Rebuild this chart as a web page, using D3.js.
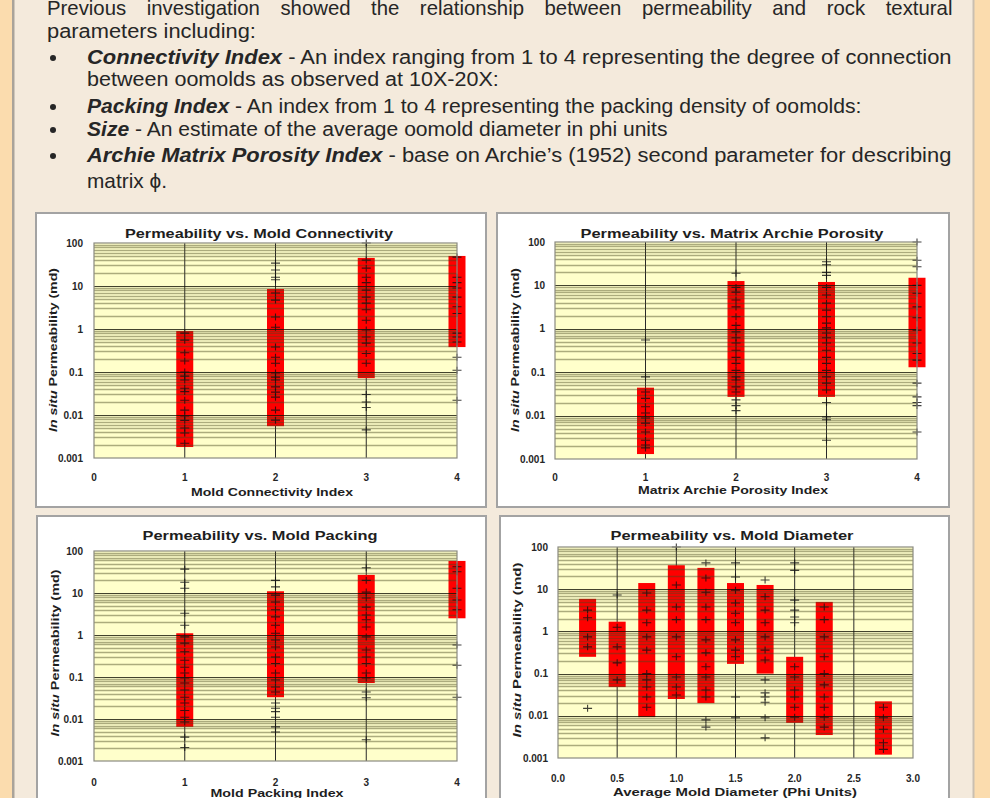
<!DOCTYPE html>
<html><head><meta charset="utf-8">
<script src="https://cdn.jsdelivr.net/npm/d3@7"></script>
<style>
html,body{margin:0;padding:0;background:#fbdcae;overflow:hidden;}
svg{display:block;}
</style></head><body>
<svg id="c" width="990" height="798"></svg>
<script>
// ---------------- DATA ----------------
const yTickValues = [0.001, 0.01, 0.1, 1, 10, 100];
const yTickLabels = ["0.001", "0.01", "0.1", "1", "10", "100"];
const indexTickValues = [0, 1, 2, 3, 4];
const indexTickLabels = ["0", "1", "2", "3", "4"];
const diameterTickValues = [0, 0.5, 1, 1.5, 2, 2.5, 3];
const diameterTickLabels = ["0.0", "0.5", "1.0", "1.5", "2.0", "2.5", "3.0"];

const connectivityCats = [1, 2, 3, 4];
const connectivityLow  = [0.0018, 0.0055, 0.072, 0.38];
const connectivityHigh = [0.9, 8.5, 45, 50];
const connectivityPts = [
  [0.8, 0.55, 0.28, 0.18, 0.1, 0.08, 0.065, 0.042, 0.035, 0.022, 0.013, 0.0095, 0.0075, 0.005, 0.0038, 0.0022],
  [34, 23.5, 16, 14, 6.9, 4.7, 1.9, 1.1, 0.38, 0.22, 0.16, 0.095, 0.076, 0.065, 0.045, 0.034, 0.026, 0.013, 0.0076],
  [100, 40, 26, 16, 12, 8, 5.5, 4, 2.8, 1.6, 0.95, 0.65, 0.47, 0.27, 0.16, 0.03, 0.02, 0.015, 0.0045],
  [47, 16, 12, 9, 5.5, 3.3, 2.3, 0.8, 0.65, 0.5, 0.22, 0.11, 0.022]
];

const archieCats = [1, 2, 3, 4];
const archieLow  = [0.0013, 0.027, 0.027, 0.13];
const archieHigh = [0.044, 12.6, 12, 15];
const archiePts = [
  [0.55, 0.078, 0.035, 0.025, 0.016, 0.0115, 0.0088, 0.0067, 0.0042, 0.0027, 0.0021, 0.0018],
  [19, 9, 7, 4.6, 3.2, 1.9, 1.2, 0.85, 0.62, 0.47, 0.32, 0.22, 0.16, 0.11, 0.078, 0.066, 0.046, 0.035, 0.023, 0.017, 0.013],
  [35, 30, 20, 17, 9, 6, 3.9, 2.7, 1.9, 1.35, 1.05, 0.8, 0.62, 0.47, 0.32, 0.22, 0.16, 0.11, 0.078, 0.056, 0.039, 0.02, 0.0093, 0.008, 0.0027],
  [100, 38, 27, 10, 6.6, 3.2, 1.8, 0.93, 0.47, 0.27, 0.19, 0.056, 0.027, 0.02, 0.017, 0.0042]
];

const packingCats = [1, 2, 3, 4];
const packingLow  = [0.0065, 0.033, 0.072, 2.5];
const packingHigh = [1.1, 11, 27, 58];
const packingPts = [
  [37, 18, 13, 3.3, 1.7, 0.9, 0.64, 0.4, 0.25, 0.17, 0.125, 0.095, 0.072, 0.049, 0.033, 0.024, 0.016, 0.011, 0.0085, 0.0037, 0.0021],
  [20, 14, 8.9, 6.1, 4, 2.7, 1.7, 1.1, 0.76, 0.52, 0.3, 0.21, 0.125, 0.085, 0.058, 0.044, 0.024, 0.018, 0.015, 0.011, 0.0065, 0.0049],
  [40, 20, 10.5, 7.6, 4.6, 3, 2.3, 1.55, 0.9, 0.44, 0.3, 0.21, 0.125, 0.095, 0.044, 0.032, 0.0032],
  [42, 32, 13, 6.8, 4, 0.58, 0.19, 0.033]
];

const diameterCats = [0.25, 0.5, 0.75, 1.0, 1.25, 1.5, 1.75, 2.0, 2.25, 2.75];
const diameterLow  = [0.25, 0.048, 0.0093, 0.025, 0.02, 0.17, 0.1, 0.0068, 0.0035, 0.0012];
const diameterHigh = [5.9, 1.7, 14, 37, 32, 14, 12.6, 0.25, 5, 0.022];
const diameterPts = [
  [3.2, 2.1, 0.74, 0.43, 0.015],
  [7.3, 1.25, 0.43, 0.18, 0.071],
  [8.1, 3.2, 1.6, 0.74, 0.36, 0.1, 0.071, 0.048, 0.028, 0.016],
  [100, 12.6, 3.8, 1.9, 0.74, 0.25, 0.083, 0.048, 0.031],
  [42, 18.5, 8.5, 3.8, 1.9, 0.63, 0.31, 0.145, 0.083, 0.041, 0.028, 0.008, 0.0054],
  [42, 19.5, 9.5, 4.7, 2.7, 1.6, 0.63, 0.36, 0.25, 0.028, 0.009],
  [16.5, 6.6, 3.2, 1.6, 0.74, 0.36, 0.21, 0.071, 0.035, 0.028, 0.021, 0.009, 0.003],
  [42, 28, 5.5, 3.2, 2.2, 1.6, 0.145, 0.083, 0.041, 0.028, 0.016, 0.0093],
  [3.8, 1.9, 0.74, 0.25, 0.1, 0.054, 0.028, 0.016, 0.0093, 0.0054],
  [0.016, 0.009, 0.0048, 0.0023, 0.0016]
];

// ---------------- TEXT ----------------
const introLines = [
  {segs: [["Previous investigation showed the relationship between permeability and rock textural", false]], x: 47, right: 953, y: 15, justify: true},
  {segs: [["parameters including:", false]], x: 47, right: 256, y: 38},
  {segs: [["Connectivity Index", true], [" - An index ranging from 1 to 4 representing the degree of connection", false]], x: 87, right: 952, y: 64, bullet: true},
  {segs: [["between oomolds as observed at 10X-20X:", false]], x: 87, right: 499, y: 86},
  {segs: [["Packing Index", true], [" - An index from 1 to 4 representing the packing density of oomolds:", false]], x: 87, right: 862, y: 113, bullet: true},
  {segs: [["Size", true], [" - An estimate of the average oomold diameter in phi units", false]], x: 87, right: 668, y: 136, bullet: true},
  {segs: [["Archie Matrix Porosity Index", true], [" - base on Archie\u2019s (1952) second parameter for describing", false]], x: 87, right: 952, y: 162, bullet: true},
  {segs: [["matrix \u03d5.", false]], x: 87, right: 167, y: 188}
];

// ---------------- DRAW ----------------
const svg = d3.select("#c");
svg.append("rect").attr("width", 990).attr("height", 798).attr("fill", "#fbdcae");
svg.append("rect").attr("x", 14).attr("y", 0).attr("width", 959).attr("height", 798).attr("fill", "#f4eadc");
svg.append("rect").attr("x", 12).attr("y", 0).attr("width", 2.5).attr("height", 798).attr("fill", "#a9a39a");
svg.append("rect").attr("x", 972.5).attr("y", 0).attr("width", 2).attr("height", 798).attr("fill", "#c9bfb1");

const textFont = "'Liberation Sans',Arial,sans-serif";
const narrow = 0.97;
introLines.forEach(l => {
  const g = svg.append("g");
  const t = g.append("text").attr("x", 0).attr("y", 0)
    .attr("font-family", textFont).attr("font-size", 21).attr("fill", "#262626");
  l.segs.forEach(s => {
    const ts = t.append("tspan").text(s[0]);
    if (s[1]) ts.attr("font-weight", "bold").attr("font-style", "italic");
  });
  const target = l.right - l.x;
  const nat = t.node().getComputedTextLength();
  let sx;
  if (l.justify) {
    sx = narrow;
    const words = l.segs.map(s => s[0]).join("").split(" ").length;
    t.attr("word-spacing", Math.max(0, (target / sx - nat) / (words - 1)));
  } else {
    sx = target / nat;
  }
  g.attr("transform", `translate(${l.x},${l.y}) scale(${sx},1)`);
  if (l.bullet) {
    svg.append("circle").attr("cx", 53).attr("cy", l.y - 6).attr("r", 3).attr("fill", "#262626");
  }
});

const chartFont = "'Liberation Sans',Arial,sans-serif";

const panels = [
  {frame: [36, 213, 450, 294], plot: [94, 243, 457, 458],
   title: "Permeability vs. Mold Connectivity", titleX: 259, titleY: 238, titleW: 268,
   xTitle: "Mold Connectivity Index", xTitleX: 272, xTitleY: 496, xTitleW: 162,
   yTitleX: 57, yTitleY: 350, yTitleW: 164, xLabelY: 481, yLabelX: 83,
   cats: connectivityCats, low: connectivityLow, high: connectivityHigh, pts: connectivityPts,
   xDomain: [0, 4], xTicks: indexTickValues, xLabels: indexTickLabels},
  {frame: [497, 213, 452, 294], plot: [555, 242, 917, 459],
   title: "Permeability vs. Matrix Archie Porosity", titleX: 732, titleY: 238, titleW: 303,
   xTitle: "Matrix Archie Porosity Index", xTitleX: 733, xTitleY: 494, xTitleW: 190,
   yTitleX: 519, yTitleY: 350, yTitleW: 164, xLabelY: 481, yLabelX: 545,
   cats: archieCats, low: archieLow, high: archieHigh, pts: archiePts,
   xDomain: [0, 4], xTicks: indexTickValues, xLabels: indexTickLabels},
  {frame: [37, 516, 449, 300], plot: [94, 551, 457, 761],
   title: "Permeability vs. Mold Packing", titleX: 260, titleY: 540, titleW: 235,
   xTitle: "Mold Packing Index", xTitleX: 277, xTitleY: 797, xTitleW: 133,
   yTitleX: 59, yTitleY: 653, yTitleW: 167, xLabelY: 786, yLabelX: 83,
   cats: packingCats, low: packingLow, high: packingHigh, pts: packingPts,
   xDomain: [0, 4], xTicks: indexTickValues, xLabels: indexTickLabels},
  {frame: [500, 516, 449, 300], plot: [558, 547, 913, 758],
   title: "Permeability vs. Mold Diameter", titleX: 732, titleY: 540, titleW: 243,
   xTitle: "Average Mold Diameter (Phi Units)", xTitleX: 735, xTitleY: 796, xTitleW: 244,
   yTitleX: 521, yTitleY: 650, yTitleW: 175, xLabelY: 782, yLabelX: 548,
   cats: diameterCats, low: diameterLow, high: diameterHigh, pts: diameterPts,
   xDomain: [0, 3], xTicks: diameterTickValues, xLabels: diameterTickLabels}
];

// minor grid values (2..9 x 10^k)
function minorValues() {
  const out = [];
  for (let e = -3; e < 2; e++) for (let m = 2; m <= 9; m++) out.push(m * Math.pow(10, e));
  return out;
}

panels.forEach(p => {
  const g = svg.append("g");
  const [fx, fy, fw, fh] = p.frame;
  g.append("rect").attr("x", fx).attr("y", fy).attr("width", fw).attr("height", fh)
    .attr("fill", "#ffffff").attr("stroke", "#a3a3a3").attr("stroke-width", 2);

  const [L, T, R, B] = p.plot;
  const x = d3.scaleLinear().domain(p.xDomain).range([L, R]);
  const y = d3.scaleLog().domain([0.001, 100]).range([B, T]);

  g.append("rect").attr("x", L).attr("y", T).attr("width", R - L).attr("height", B - T).attr("fill", "#ffffcb");

  // vertical gridlines
  g.selectAll(".vg").data(p.xTicks.slice(1, -1)).join("line")
    .attr("x1", d => x(d)).attr("x2", d => x(d)).attr("y1", T).attr("y2", B)
    .attr("stroke", "#2a2a2a").attr("stroke-width", 1);

  // red range bars
  const bw = 17;
  g.selectAll(".bar").data(p.cats).join("rect")
    .attr("x", d => x(d) - bw / 2)
    .attr("y", (d, i) => y(p.high[i]))
    .attr("width", bw)
    .attr("height", (d, i) => y(p.low[i]) - y(p.high[i]))
    .attr("fill", "#ff0000");

  // horizontal minor gridlines (drawn over, semi transparent)
  g.selectAll(".mg").data(minorValues()).join("line")
    .attr("x1", L).attr("x2", R)
    .attr("y1", d => Math.round(y(d)) + 0.5).attr("y2", d => Math.round(y(d)) + 0.5)
    .attr("stroke", "rgba(70,70,30,0.45)").attr("stroke-width", 1.7);
  g.selectAll(".Mg").data(yTickValues.slice(1, -1)).join("line")
    .attr("x1", L).attr("x2", R)
    .attr("y1", d => Math.round(y(d)) + 0.5).attr("y2", d => Math.round(y(d)) + 0.5)
    .attr("stroke", "rgba(20,20,5,0.8)").attr("stroke-width", 1.2);

  // data points (+)
  const flat = [];
  p.pts.forEach((arr, i) => arr.forEach(v => flat.push([p.cats[i], v])));
  g.selectAll(".pt").data(flat).join("path")
    .attr("transform", d => `translate(${x(d[0])},${y(d[1])})`)
    .attr("d", "M-4.5,0H4.5M0,-3.5V3.5")
    .attr("stroke", "#111").attr("stroke-width", 1.1).attr("opacity", 0.8).attr("fill", "none");

  // plot border
  g.append("rect").attr("x", L).attr("y", T).attr("width", R - L).attr("height", B - T)
    .attr("fill", "none").attr("stroke", "#8a8a80").attr("stroke-width", 1.2);

  // y tick labels
  g.selectAll(".yl").data(yTickValues).join("text")
    .attr("x", p.yLabelX).attr("y", d => y(d)).attr("dy", "0.35em")
    .attr("text-anchor", "end").attr("font-family", chartFont).attr("font-weight", "bold")
    .attr("font-size", 10).attr("fill", "#262626")
    .text((d, i) => yTickLabels[i]);

  // x tick labels
  g.selectAll(".xl").data(p.xTicks).join("text")
    .attr("x", d => x(d)).attr("y", p.xLabelY)
    .attr("text-anchor", "middle").attr("font-family", chartFont).attr("font-weight", "bold")
    .attr("font-size", 10).attr("fill", "#262626")
    .text((d, i) => p.xLabels[i]);

  // title
  g.append("text").attr("x", p.titleX).attr("y", p.titleY).attr("text-anchor", "middle")
    .attr("font-family", chartFont).attr("font-weight", "bold").attr("font-size", 13.5)
    .attr("fill", "#1e1e1e").attr("textLength", p.titleW).attr("lengthAdjust", "spacingAndGlyphs")
    .text(p.title);

  // x title
  g.append("text").attr("x", p.xTitleX).attr("y", p.xTitleY).attr("text-anchor", "middle")
    .attr("font-family", chartFont).attr("font-weight", "bold").attr("font-size", 11.5)
    .attr("fill", "#1e1e1e").attr("textLength", p.xTitleW).attr("lengthAdjust", "spacingAndGlyphs")
    .text(p.xTitle);

  // y title
  const yt = g.append("text")
    .attr("transform", `translate(${p.yTitleX},${p.yTitleY}) rotate(-90)`)
    .attr("text-anchor", "middle")
    .attr("font-family", chartFont).attr("font-weight", "bold").attr("font-size", 11.5)
    .attr("fill", "#1e1e1e").attr("textLength", p.yTitleW).attr("lengthAdjust", "spacingAndGlyphs");
  yt.append("tspan").attr("font-style", "italic").text("In situ");
  yt.append("tspan").text(" Permeability (md)");
});
</script>
</body></html>
